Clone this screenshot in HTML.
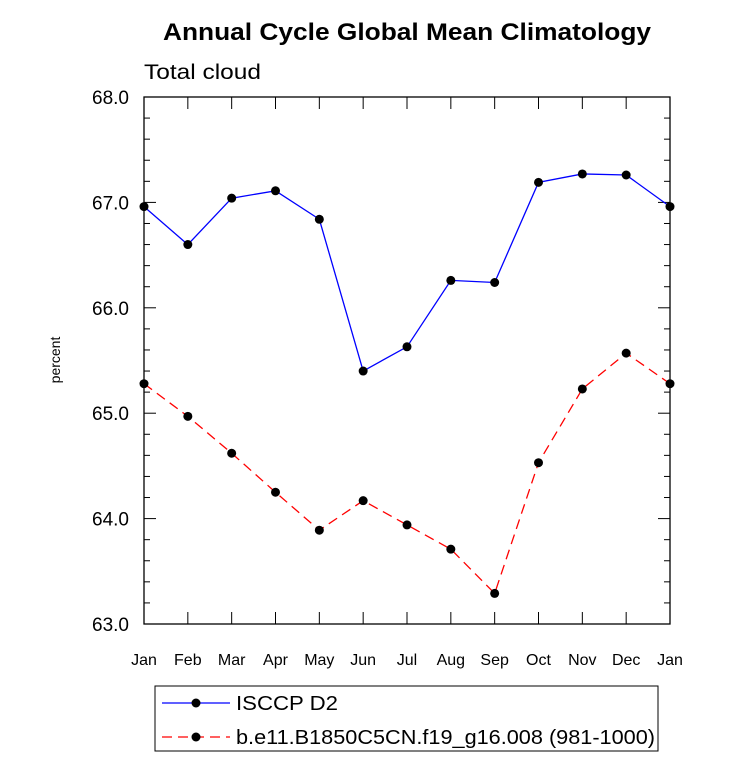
<!DOCTYPE html>
<html><head><meta charset="utf-8"><style>
body{margin:0;background:#fff;}
svg{display:block;font-family:"Liberation Sans",Arial,sans-serif;}
</style></head><body>
<svg id="chart" width="733" height="777" viewBox="0 0 733 777">
<text x="163" y="40" textLength="488" lengthAdjust="spacingAndGlyphs" font-size="24" font-weight="bold">Annual Cycle Global Mean Climatology</text>
<text x="144" y="79" textLength="117" lengthAdjust="spacingAndGlyphs" font-size="21">Total cloud</text>
<text transform="translate(60,360) rotate(-90)" text-anchor="middle" font-size="14">percent</text>
<g id="axes"></g>
<g id="series"></g>
<g>
<rect x="155" y="686" width="503" height="65" fill="none" stroke="#000" stroke-width="1"/>
<line x1="162" y1="703" x2="230" y2="703" stroke="#0000ff" stroke-width="1.3"/>
<circle cx="196" cy="703" r="4.5" fill="#000"/>
<text x="236" y="710" textLength="102" lengthAdjust="spacingAndGlyphs" font-size="20">ISCCP D2</text>
<line x1="162" y1="737" x2="230" y2="737" stroke="#ff0000" stroke-width="1.3" stroke-dasharray="10,6"/>
<circle cx="196" cy="737" r="4.5" fill="#000"/>
<text x="236" y="744" textLength="419" lengthAdjust="spacingAndGlyphs" font-size="20">b.e11.B1850C5CN.f19_g16.008 (981-1000)</text>
</g>
</svg>
<script>
const months=["Jan","Feb","Mar","Apr","May","Jun","Jul","Aug","Sep","Oct","Nov","Dec","Jan"];
const isccp=[66.96,66.60,67.04,67.11,66.84,65.40,65.63,66.26,66.24,67.19,67.27,67.26,66.96];
const model=[65.28,64.97,64.62,64.25,63.89,64.17,63.94,63.71,63.29,64.53,65.23,65.57,65.28];
const yTicks=["63.0","64.0","65.0","66.0","67.0","68.0"];
const X0=144,X1=670,Y0=624,Y1=97,YMIN=63,YMAX=68;
const xs=i=>X0+(X1-X0)*i/(months.length-1);
const ys=v=>Y0-(v-YMIN)/(YMAX-YMIN)*(Y0-Y1);
const NS="http://www.w3.org/2000/svg";
function mk(t,a,p){const e=document.createElementNS(NS,t);for(const k in a)e.setAttribute(k,a[k]);p.appendChild(e);return e;}
const ax=document.getElementById('axes');
const fr=mk('rect',{x:X0,y:Y1,width:X1-X0,height:Y0-Y1,fill:'none',stroke:'#000','stroke-width':1.3},ax);


for(let v=YMIN;v<=YMAX+1e-9;v+=0.2){
 const y=ys(v);const major=Math.abs(v-Math.round(v))<1e-6;const L=major?12:6;
 mk('line',{x1:X0,y1:y,x2:X0+L,y2:y,stroke:'#000'},ax);
 mk('line',{x1:X1,y1:y,x2:X1-L,y2:y,stroke:'#000'},ax);
}
yTicks.forEach(t=>{
 const tx=mk('text',{x:X0-15,y:ys(parseFloat(t))+7,'text-anchor':'end','font-size':19},ax);
 tx.textContent=t;
 
 
});
months.forEach((m,i)=>{
 const x=xs(i);
 mk('line',{x1:x,y1:Y0,x2:x,y2:Y0-12,stroke:'#000'},ax);
 mk('line',{x1:x,y1:Y1,x2:x,y2:Y1+12,stroke:'#000'},ax);
 const tx=mk('text',{x:x,y:Y0+41,'text-anchor':'middle','font-size':16},ax);
 tx.textContent=m;
 
 
});
const sg=document.getElementById('series');
function draw(vals,color,dash,name){
 const pl=mk('polyline',{points:vals.map((v,i)=>xs(i)+','+ys(v)).join(' '),fill:'none',stroke:color,'stroke-width':1.3},sg);
 if(dash)pl.setAttribute('stroke-dasharray',dash);
 
 
 vals.forEach((v,i)=>{
  const c=mk('circle',{cx:xs(i),cy:ys(v),r:4.5,fill:'#000'},sg);
  
  
 });
}
draw(isccp,'#0000ff',null,'isccp');
draw(model,'#ff0000','10,6','model');
</script>
</body></html>
